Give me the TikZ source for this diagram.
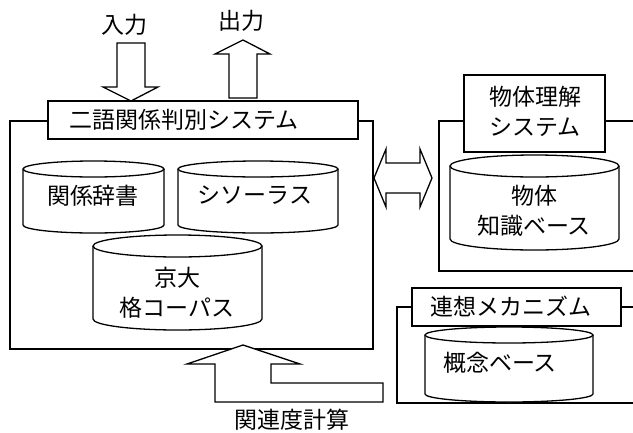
\documentclass[tikz,border=0pt]{standalone}
\usepackage{fontspec}
\setmainfont{Noto Sans CJK JP}
\newcommand{\dbcyl}[5]{% x1, x2, ytop, ybot, ry
  \draw[ln,fill=white] (#1,#3) -- (#1,#4) arc[start angle=180,end angle=360,x radius={(#2-#1)/2*1pt},y radius=#5pt] -- (#2,#3);
  \draw[ln] ({(#1+#2)/2},#3) ellipse [x radius={(#2-#1)/2*1pt}, y radius=#5pt];
}
\begin{document}
\begin{tikzpicture}[x=1pt,y=-1pt,
  ln/.style={line width=1.3pt, line join=miter},
  lbl/.style={inner sep=0pt, font=\fontsize{23}{30}\selectfont, align=center},
  blockarrow/.style={ln, fill=white}]
\useasboundingbox (0,0) rectangle (633,432);
% main frame
\draw[ln] (10,121) rectangle (373,349);
\draw[ln,fill=white] (48,101) rectangle (358,139);
\node[lbl] (sys) at (184,120) {二語関係判別システム};
% cylinders in main frame
\dbcyl{23}{164}{169}{225}{8}
\node[lbl] (jisho) at (93,196) {関係辞書};
\dbcyl{178}{338}{169}{225}{8}
\node[lbl] (thes) at (255,195) {シソーラス};
\dbcyl{93}{262}{246}{319}{11}
\node[lbl] (corpus) at (177,293) {京大\\格コーパス};
% input / output arrows
\node[lbl] (in) at (124,25) {入力};
\node[lbl] (out) at (241,21) {出力};
\draw[blockarrow] (117,43) -- (145,43) -- (145,87) -- (158,87) -- (131,101) -- (103,87) -- (117,87) -- cycle;
\draw[blockarrow] (229,98) -- (229,54) -- (215,54) -- (243,40) -- (270,54) -- (257,54) -- (257,98) -- cycle;
% object understanding system
\draw[ln] (640,121) -- (439,121) -- (439,271) -- (640,271);
\draw[ln,fill=white] (464,75) rectangle (605,152);
\node[lbl] (obj) at (535,111) {物体理解\\システム};
\dbcyl{450}{619}{166}{239}{11}
\node[lbl] (objkb) at (534,211) {物体\\知識ベース};
% double arrow
\draw[blockarrow] (374,178) -- (386,149) -- (386,163) -- (420,163) -- (420,149) -- (432,178) -- (420,207) -- (420,193) -- (386,193) -- (386,207) -- cycle;
% association mechanism
\draw[ln] (640,307) -- (397,307) -- (397,403) -- (640,403);
\draw[ln,fill=white] (412,288) rectangle (621,326);
\node[lbl] (assoc) at (511,307) {連想メカニズム};
\dbcyl{425}{593}{335}{394}{8}
\node[lbl] (concept) at (500,363) {概念ベース};
% relatedness arrow
\draw[blockarrow] (271,364) -- (271,383) -- (383,383) -- (383,402) -- (215,402) -- (215,364) -- (187,364) -- (243,345) -- (300,364) -- cycle;
\node[lbl] (rel) at (292,420) {関連度計算};
\end{tikzpicture}
\end{document}
